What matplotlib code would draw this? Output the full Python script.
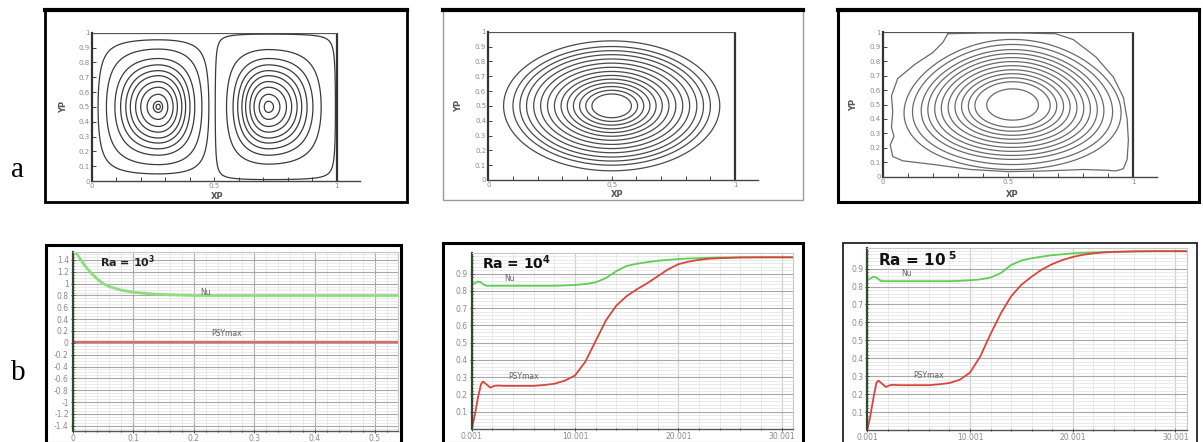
import numpy as np
import matplotlib
matplotlib.use('Agg')
import matplotlib.pyplot as plt
from matplotlib.patches import Rectangle
from matplotlib.lines import Line2D
from matplotlib.ticker import MultipleLocator

W, H = 1203, 442

# ---------------- data: row a (stream function contours) ----------------
yp_ticks = [0, 0.1, 0.2, 0.3, 0.4, 0.5, 0.6, 0.7, 0.8, 0.9, 1]
yp_labels = ['0', '0.1', '0.2', '0.3', '0.4', '0.5', '0.6', '0.7', '0.8', '0.9', '1']
xp_ticks = [0, 0.1, 0.2, 0.3, 0.4, 0.5, 0.6, 0.7, 0.8, 0.9, 1]
xp_labels = ['0', '', '', '', '', '0.5', '', '', '', '', '1']

a1_centers = [0.272, 0.721]
a1_levels_left = [0.15, 0.34, 0.52, 0.63, 0.72, 0.79, 0.86, 0.915, 0.965, 0.993, 0.9985]
a1_levels_right = [0.03, 0.35, 0.52, 0.63, 0.72, 0.79, 0.86, 0.915, 0.965, 0.993]

a2_center = [0.5, 0.5]
a2_radii = [0.08, 0.105, 0.13, 0.155, 0.18, 0.205, 0.232, 0.26, 0.288, 0.316,
            0.345, 0.372, 0.40, 0.438]

a3_center = [0.518, 0.5]
a3_radii = [0.103, 0.15, 0.176, 0.203, 0.229, 0.256, 0.283, 0.309, 0.336,
            0.362, 0.396, 0.429]
a3_outer_x = [0.26, 0.40, 0.55, 0.69, 0.76, 0.85, 0.92, 0.96, 0.975, 0.98, 0.975,
              0.96, 0.93, 0.89, 0.80, 0.65, 0.50, 0.35, 0.20, 0.08, 0.04, 0.03,
              0.045, 0.035, 0.04, 0.035, 0.06, 0.13, 0.20, 0.24, 0.26]
a3_outer_y = [0.99, 0.995, 0.995, 0.99, 0.95, 0.83, 0.69, 0.55, 0.40, 0.25, 0.12,
              0.055, 0.04, 0.045, 0.05, 0.04, 0.035, 0.05, 0.085, 0.11, 0.14, 0.22,
              0.28, 0.34, 0.45, 0.56, 0.68, 0.78, 0.86, 0.93, 0.99]

# ---------------- data: row b (Nu and PSYmax histories) ----------------
b1_t = [0.003, 0.01, 0.02, 0.03, 0.04, 0.05, 0.06, 0.08, 0.10, 0.12, 0.15, 0.2,
        0.3, 0.4, 0.5, 0.538]
b1_nu = [1.55, 1.45, 1.30, 1.18, 1.08, 1.00, 0.95, 0.89, 0.855, 0.835, 0.815, 0.80,
         0.80, 0.80, 0.80, 0.80]
b1_psy_t = [0.0, 0.538]
b1_psy = [0.012, 0.012]

b2_t = [0, 0.3, 0.6, 0.9, 1.1, 1.4, 1.8, 2.2, 2.6, 3, 4, 5, 6, 7, 8, 9, 10, 11, 12,
        13, 14, 15, 16, 17, 18, 19, 20, 21, 22, 23, 24, 26, 28, 31.1]
b2_nu = [0.835, 0.845, 0.855, 0.85, 0.84, 0.83, 0.83, 0.83, 0.83, 0.83, 0.83, 0.83,
         0.83, 0.83, 0.83, 0.832, 0.835, 0.84, 0.85, 0.875, 0.915, 0.945, 0.958,
         0.967, 0.975, 0.98, 0.985, 0.988, 0.99, 0.992, 0.994, 0.995, 0.995, 0.995]
b2_psy = [0.0, 0.08, 0.18, 0.26, 0.275, 0.26, 0.24, 0.25, 0.252, 0.25, 0.25, 0.25,
          0.25, 0.255, 0.262, 0.28, 0.31, 0.39, 0.51, 0.63, 0.715, 0.77, 0.81,
          0.845, 0.885, 0.925, 0.955, 0.97, 0.98, 0.987, 0.99, 0.994, 0.995, 0.995]

b3_t = b2_t
b3_nu = [0.835, 0.845, 0.855, 0.85, 0.84, 0.83, 0.83, 0.83, 0.83, 0.83, 0.83, 0.83,
         0.83, 0.83, 0.83, 0.832, 0.835, 0.84, 0.85, 0.875, 0.92, 0.945, 0.958,
         0.967, 0.975, 0.98, 0.985, 0.988, 0.99, 0.992, 0.994, 0.996, 0.997, 0.997]
b3_psy = [0.0, 0.08, 0.18, 0.265, 0.275, 0.26, 0.24, 0.25, 0.252, 0.25, 0.25, 0.25,
          0.25, 0.255, 0.262, 0.28, 0.32, 0.41, 0.535, 0.65, 0.745, 0.81, 0.855,
          0.895, 0.925, 0.948, 0.965, 0.977, 0.985, 0.99, 0.993, 0.996, 0.997, 0.997]

b23_xticks = [0.001, 10.001, 20.001, 30.001]
b23_xlabels = ['0.001', '10.001', '20.001', '30.001']
b23_yticks = [0.1, 0.2, 0.3, 0.4, 0.5, 0.6, 0.7, 0.8, 0.9]
b23_ylabels = ['0.1', '0.2', '0.3', '0.4', '0.5', '0.6', '0.7', '0.8', '0.9']
b1_xticks = [0, 0.1, 0.2, 0.3, 0.4, 0.5]
b1_xlabels = ['0', '0.1', '0.2', '0.3', '0.4', '0.5']
b1_yticks = [1.4, 1.2, 1, 0.8, 0.6, 0.4, 0.2, 0, -0.2, -0.4, -0.6, -0.8, -1, -1.2, -1.4]
b1_ylabels = ['1.4', '1.2', '1', '0.8', '0.6', '0.4', '0.2', '0', '-0.2', '-0.4',
              '-0.6', '-0.8', '-1', '-1.2', '-1.4']

GREEN = '#5fcf52'
RED = '#d8453e'
TICK_GREY = '#8a8a8a'

fig = plt.figure(figsize=(W / 100, H / 100), dpi=100)


def px_rect(l, t, r, b):
    return [l / W, 1 - b / H, (r - l) / W, (b - t) / H]


def box(l, t, r, b, color='black', lw=2.0):
    fig.add_artist(Rectangle((l / W, 1 - b / H), (r - l) / W, (b - t) / H,
                             transform=fig.transFigure, fill=False, ec=color, lw=lw))


def top_bar(l, r, t, lw=3.0):
    fig.add_artist(Line2D([l / W, r / W], [1 - t / H, 1 - t / H],
                          transform=fig.transFigure, color='black', lw=lw))


def contour_axes(l, t, r, b, xmax, ylab_pos, xlab_pos):
    ax = fig.add_axes(px_rect(l, t, r, b))
    ax.set_xlim(0, xmax)
    ax.set_ylim(0, 1)
    for s in ['top', 'right']:
        ax.spines[s].set_visible(False)
    ax.spines['left'].set_linewidth(1.6)
    ax.spines['left'].set_color('#333333')
    ax.spines['bottom'].set_linewidth(1.0)
    ax.spines['bottom'].set_color('#444444')
    ax.axvline(1, color='#333333', lw=1.6)
    ax.hlines(1, 0, 1, color='#555555', lw=0.9)
    ax.set_yticks(yp_ticks)
    ax.set_yticklabels(yp_labels)
    ax.set_xticks(xp_ticks)
    ax.set_xticklabels(xp_labels)
    ax.tick_params(direction='in', length=3, width=0.7, color='#444444',
                   labelsize=5, labelcolor=TICK_GREY, pad=1.5)
    ax.set_ylabel('YP', fontsize=6, fontweight='bold', color='#555555')
    ax.yaxis.set_label_coords(*ylab_pos)
    ax.set_xlabel('XP', fontsize=6, fontweight='bold', color='#555555')
    ax.xaxis.set_label_coords(*xlab_pos)
    return ax


def series_axes(l, t, r, b, xlim, ylim, xticks, xlabels, yticks, ylabels,
                xmin, ymin):
    ax = fig.add_axes(px_rect(l, t, r, b))
    ax.set_xlim(*xlim)
    ax.set_ylim(*ylim)
    ax.set_xticks(xticks, labels=xlabels)
    ax.set_yticks(yticks, labels=ylabels)
    ax.xaxis.set_minor_locator(MultipleLocator(xmin))
    ax.yaxis.set_minor_locator(MultipleLocator(ymin))
    ax.grid(which='major', color='#a8a8a8', lw=0.8)
    ax.grid(which='minor', color='#e2e2e2', lw=0.5)
    ax.set_axisbelow(True)
    ax.tick_params(which='both', direction='inout', length=3, width=0.6,
                   color='#333333', labelsize=5.5, labelcolor=TICK_GREY)
    ax.tick_params(axis='x', pad=0.5)
    ax.tick_params(axis='y', pad=1.5)
    ax.tick_params(which='minor', length=1.5)
    ax.spines['left'].set_color('#2f4a2f')
    ax.spines['left'].set_linewidth(1.6)
    ax.spines['bottom'].set_color('#555555')
    ax.spines['bottom'].set_linewidth(1.0)
    for s in ['top', 'right']:
        ax.spines[s].set_color('#c8c8c8')
        ax.spines[s].set_linewidth(0.8)
    return ax


# ---------------- row a ----------------
box(45, 10, 407, 202)
top_bar(45, 407, 10, lw=3)
box(443, 10, 803, 200, color='#9a9a9a', lw=1.0)
top_bar(443, 803, 10, lw=3)
box(838, 10, 1199, 202, lw=2.2)
top_bar(838, 1199, 10, lw=3)

# a1: two counter-rotating cells
ax = contour_axes(91.7, 32.7, 360, 181, 1.095, (-0.088, 0.5), (0.467, -0.074))
gx = np.linspace(0, 1, 500)
gy = np.linspace(0, 1, 300)
X, Y = np.meshgrid(gx, gy)
u1 = np.interp(X, [0, a1_centers[0], 0.5], [0, 0.5, 1])
u2 = np.interp(X, [0.5, a1_centers[1], 1], [0, 0.5, 1])
psi = np.where(X <= 0.5, np.sin(np.pi * u1), -np.sin(np.pi * u2)) * np.sin(np.pi * Y)
lev = sorted([-v for v in a1_levels_right] + a1_levels_left)
ax.contour(X, Y, psi, levels=lev, colors='#3a3a3a', linewidths=0.9,
           linestyles='solid')

# a2: single cell, concentric contours
ax = contour_axes(488.3, 31.7, 758, 180, 1.093, (-0.093, 0.5), (0.476, -0.067))
R2 = np.hypot(X - a2_center[0], Y - a2_center[1])
ax.contour(X, Y, R2, levels=a2_radii, colors='#4a4a4a', linewidths=0.9,
           linestyles='solid')

# a3: single cell, egg-shaped contours
ax = contour_axes(882.7, 32.3, 1156.7, 176.7, 1.093, (-0.089, 0.5), (0.474, -0.092))
dx = (X - a3_center[0]) / (1 + 0.3 * (a3_center[1] - Y))
R3 = np.hypot(dx, (Y - a3_center[1]) / 1.05)
ax.contour(X, Y, R3, levels=a3_radii, colors='#6a6a6a', linewidths=0.9,
           linestyles='solid')
ax.plot(a3_outer_x, a3_outer_y, color='#6a6a6a', lw=0.9)

# ---------------- row b ----------------
box(46, 245, 401, 443, lw=2.2)
box(443, 243, 803, 443, lw=2.2)
box(843, 243, 1197, 443, color='#333333', lw=1.4)

# b1
ax = series_axes(73, 252, 398, 431, (0, 0.538), (-1.49, 1.535),
                 b1_xticks, b1_xlabels, b1_yticks, b1_ylabels, 0.02, 0.05)
ax.plot(b1_t, b1_nu, color='#8fdc7f', lw=2.0)
ax.plot(b1_psy_t, b1_psy, color='#e06a63', lw=1.5)
ax.text(0.219, 0.857, 'Nu', fontsize=5.5, color='#666666', ha='center', va='center')
ax.text(0.255, 0.157, 'PSYmax', fontsize=5.5, color='#666666', ha='center', va='center')
ax.text(0.045, 1.29, r'Ra = 10$^{\mathbf{3}}$', fontsize=8, fontweight='bold',
        va='baseline', color='#222222')

# b2
ax = series_axes(471.7, 253, 793, 429, (0, 31.1), (0, 1.02),
                 b23_xticks, b23_xlabels, b23_yticks, b23_ylabels, 2, 0.02)
ax.plot(b2_t, b2_nu, color=GREEN, lw=1.3)
ax.plot(b2_t, b2_psy, color=RED, lw=1.3)
ax.text(3.7, 0.875, 'Nu', fontsize=5.5, color='#666666', ha='center', va='center')
ax.text(5.0, 0.302, 'PSYmax', fontsize=5.5, color='#666666', ha='center', va='center')
ax.text(0.97, 0.93, r'Ra = 10$^{\mathbf{4}}$', fontsize=10, fontweight='bold',
        va='baseline', color='#111111')

# b3
ax = series_axes(867.3, 248, 1186.7, 430, (0, 31.1), (0, 1.015),
                 b23_xticks, b23_xlabels, b23_yticks, b23_ylabels, 2, 0.02)
ax.plot(b3_t, b3_nu, color=GREEN, lw=1.3)
ax.plot(b3_t, b3_psy, color=RED, lw=1.3)
ax.text(3.84, 0.875, 'Nu', fontsize=5.5, color='#666666', ha='center', va='center')
ax.text(5.94, 0.303, 'PSYmax', fontsize=5.5, color='#666666', ha='center', va='center')
ax.text(1.07, 0.915, r'Ra = 10$^{\ \mathbf{5}}$', fontsize=11, fontweight='bold',
        va='baseline', color='#111111')

# row letters
fig.text(11 / W, 1 - 177 / H, 'a', family='Liberation Serif', fontsize=21,
         ha='left', va='baseline')
fig.text(11 / W, 1 - 380 / H, 'b', family='Liberation Serif', fontsize=21,
         ha='left', va='baseline')

fig.savefig('out.png', dpi=100, facecolor='white')
